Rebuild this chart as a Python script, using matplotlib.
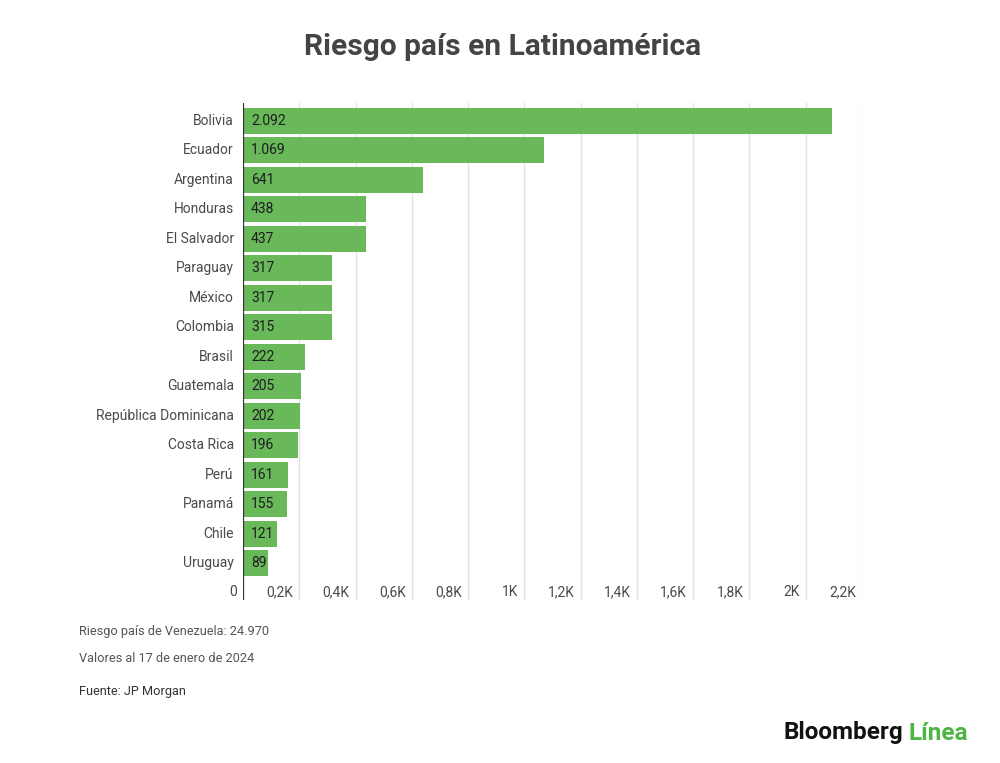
import matplotlib.pyplot as plt

# -----------------------------
# Data
# -----------------------------
countries = [
    "Bolivia", "Ecuador", "Argentina", "Honduras", "El Salvador",
    "Paraguay", "México", "Colombia", "Brasil", "Guatemala",
    "República Dominicana", "Costa Rica", "Perú", "Panamá", "Chile", "Uruguay",
]
risk = [2092, 1069, 641, 438, 437, 317, 317, 315, 222, 205, 202, 196, 161, 155, 121, 89]
value_labels = ["2.092", "1.069", "641", "438", "437", "317", "317", "315",
                "222", "205", "202", "196", "161", "155", "121", "89"]

xticks = [0, 200, 400, 600, 800, 1000, 1200, 1400, 1600, 1800, 2000, 2200]
xtick_labels = ["0", "0,2K", "0,4K", "0,6K", "0,8K", "1K", "1,2K",
                "1,4K", "1,6K", "1,8K", "2K", "2,2K"]

# -----------------------------
# Style
# -----------------------------
plt.rcParams['font.family'] = ['Roboto', 'DejaVu Sans']
GREEN = "#69b85a"
TEXT = "#4a4a4a"
GRID = "#e3e3e3"

fig = plt.figure(figsize=(10, 7.63), dpi=100)
ax = fig.add_axes([0.243, 0.2136, 0.619, 0.6514])

rows = list(range(len(countries)))
ax.barh(rows, risk, height=0.88, color=GREEN, zorder=2)

ax.set_xlim(0, 2200)
ax.set_ylim(16.25, -0.6)

# gridlines
for xt in xticks[1:]:
    ax.axvline(xt, color=GRID, linewidth=1, zorder=1)
ax.axvline(0, color="#333333", linewidth=1.6, zorder=3)

for s in ax.spines.values():
    s.set_visible(False)
ax.set_xticks([])
ax.set_yticks([])

# category labels
for r, name in zip(rows, countries):
    ax.text(-33, r, name, ha="right", va="center", fontsize=10, color=TEXT)

# value labels inside bars
for r, lab in zip(rows, value_labels):
    ax.text(28, r, lab, ha="left", va="center", fontsize=10, color="#1e1e1e", zorder=4)

# x tick labels placed inside bottom row
for xt, lab in zip(xticks, xtick_labels):
    ax.text(xt - 22, 15.98, lab, ha="right", va="center", fontsize=10, color=TEXT)

# title
fig.text(0.503, 1 - 47 / 763, "Riesgo país en Latinoamérica", ha="center", va="center",
         fontsize=21.5, fontweight="bold", color="#444444")

# footer notes
fig.text(0.079, 1 - 631 / 763, "Riesgo país de Venezuela: 24.970", ha="left", va="center",
         fontsize=9.2, color="#555555")
fig.text(0.079, 1 - 659 / 763, "Valores al 17 de enero de 2024", ha="left", va="center",
         fontsize=9.2, color="#555555")
fig.text(0.079, 1 - 692 / 763, "Fuente: JP Morgan", ha="left", va="center",
         fontsize=9.2, color="#333333")

# logo
fig.text(0.903, 1 - 733 / 763, "Bloomberg", ha="right", va="center",
         fontsize=17.5, fontweight="bold", color="#111111")
fig.text(0.909, 1 - 733 / 763, "Línea", ha="left", va="center",
         fontsize=17.5, fontweight="bold", color="#4cb543")

plt.savefig("out.png", dpi=100)
